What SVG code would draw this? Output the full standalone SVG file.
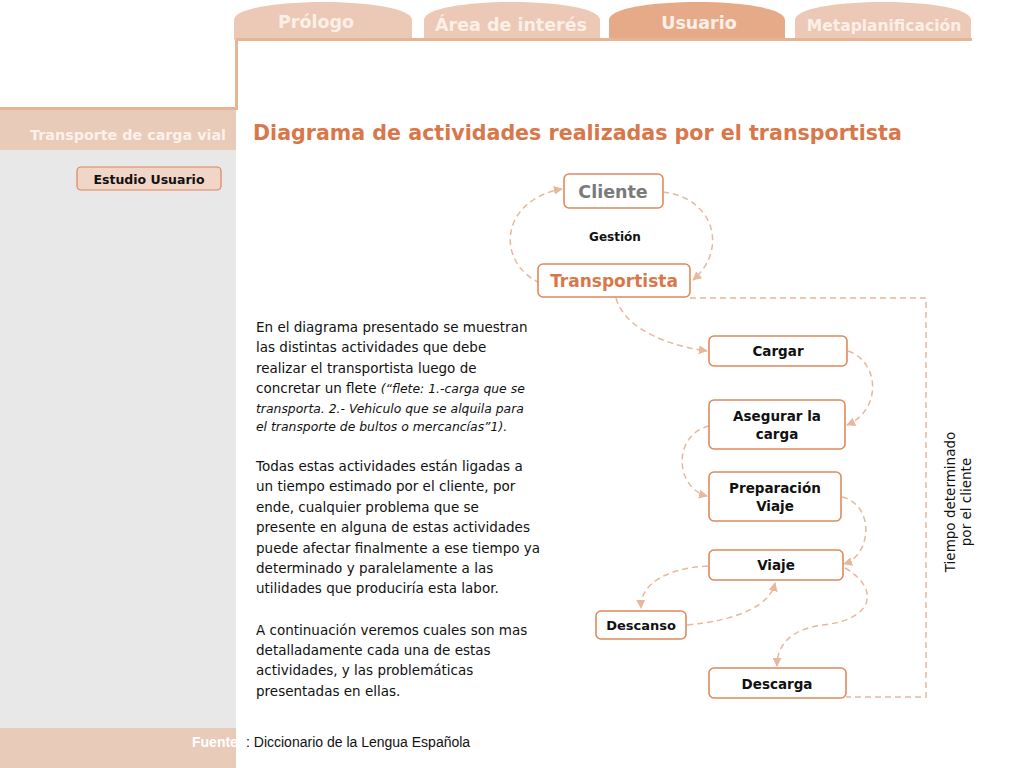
<svg xmlns="http://www.w3.org/2000/svg" width="1024" height="768" viewBox="0 0 1024 768">
<style>
.tab{fill:#ecc9b6}
.tabA{fill:#e6aa89}
.tabT{font-family:"DejaVu Sans",sans-serif;font-weight:bold;font-size:17.5px;fill:#fbefe8;text-anchor:middle}
.node{fill:#fff;stroke:#e0895b;stroke-width:1.6}
.nt{font-family:"DejaVu Sans",sans-serif;font-weight:bold;font-size:13.5px;fill:#111;text-anchor:middle}
.con{fill:none;stroke:#e9b79c;stroke-width:1.5;stroke-dasharray:6,4}
.body{font-family:"DejaVu Sans",sans-serif;font-size:13.5px;fill:#111}
.it{font-style:italic;font-size:12.4px}
</style>
<defs>
<marker id="ar" viewBox="0 0 10 10" refX="9" refY="5" markerWidth="9" markerHeight="9" markerUnits="userSpaceOnUse" orient="auto">
<path d="M0,0 L10,5 L0,10 Z" fill="#e9b79c"/>
</marker>
</defs>
<rect width="1024" height="768" fill="#fff"/>
<rect x="0" y="150" width="236" height="578" fill="#e8e8e8"/>
<rect x="0" y="110" width="236" height="40" fill="#e9cbb9"/>
<rect x="0" y="728" width="236" height="40" fill="#e9cbb9"/>
<path d="M0,108.5 H236.5 V39" fill="none" stroke="#e8b496" stroke-width="3"/>
<g id="tabs">
<path class="tab" d="M234,40 V20 C234,8 280,2 323,2 C366,2 412,8 412,20 V40 Z"/>
<path class="tab" d="M424,40 V20 C424,8 468,2 512,2 C556,2 600,8 600,20 V40 Z"/>
<path class="tabA" d="M609,40 V20 C609,8 653,2 697,2 C741,2 785,8 785,20 V40 Z"/>
<path class="tab" d="M795,40 V20 C795,8 839,2 883,2 C927,2 971,8 971,20 V40 Z"/>
<text class="tabT" x="316" y="28">Prólogo</text>
<text class="tabT" x="511" y="31">Área de interés</text>
<text class="tabT" x="699" y="29">Usuario</text>
<text class="tabT" x="884" y="31" style="font-size:15.5px">Metaplanificación</text>
</g>
<line x1="236" y1="39.5" x2="972" y2="39.5" stroke="#e8b496" stroke-width="3"/>
<text x="226" y="140" text-anchor="end" font-family="DejaVu Sans,sans-serif" font-weight="bold" font-size="14.3" fill="#fbf1ea">Transporte de carga vial</text>
<g id="btn">
<rect x="77" y="167" width="144" height="23" rx="4" fill="#f1d6c7" stroke="#d9865c" stroke-width="1.2"/>
<text x="149" y="184" class="nt" style="font-size:12.5px">Estudio Usuario</text>
</g>
<text x="253" y="140" font-family="DejaVu Sans,sans-serif" font-weight="bold" font-size="20.6" fill="#d8784a">Diagrama de actividades realizadas por el transportista</text>
<g id="para" class="body">
<text x="256" y="332">En el diagrama presentado se muestran</text>
<text x="256" y="352">las distintas actividades que debe</text>
<text x="256" y="373">realizar el transportista luego de</text>
<text x="256" y="393">concretar un flete <tspan class="it">(“flete: 1.-carga que se</tspan></text>
<text x="256" y="413" class="it">transporta. 2.- Vehiculo que se alquila para</text>
<text x="256" y="431" class="it">el transporte de bultos o mercancías”1).</text>
<text x="256" y="471">Todas estas actividades están ligadas a</text>
<text x="256" y="491">un tiempo estimado por el cliente, por</text>
<text x="256" y="512">ende, cualquier problema que se</text>
<text x="256" y="532">presente en alguna de estas actividades</text>
<text x="256" y="553">puede afectar finalmente a ese tiempo ya</text>
<text x="256" y="573">determinado y paralelamente a las</text>
<text x="256" y="593">utilidades que produciría esta labor.</text>
<text x="256" y="635">A continuación veremos cuales son mas</text>
<text x="256" y="655">detalladamente cada una de estas</text>
<text x="256" y="675">actividades, y las problemáticas</text>
<text x="256" y="696">presentadas en ellas.</text>
</g>
<g id="connectors">
<path class="con" d="M663,192 C715,198 728,250 693,280" marker-end="url(#ar)"/>
<path class="con" d="M540,283 C495,262 500,200 562,189" marker-end="url(#ar)"/>
<path class="con" d="M690,298 H926 V697 H846"/>
<path class="con" d="M616,298 C625,330 670,346 707,351" marker-end="url(#ar)"/>
<path class="con" d="M848,351 C880,362 882,410 847,425" marker-end="url(#ar)"/>
<path class="con" d="M709,426 C672,435 675,488 707,496" marker-end="url(#ar)"/>
<path class="con" d="M842,497 C875,505 872,555 844,564" marker-end="url(#ar)"/>
<path class="con" d="M708,566 C670,568 640,582 641,608" marker-end="url(#ar)"/>
<path class="con" d="M687,625 C740,620 770,605 775,583" marker-end="url(#ar)"/>
<path class="con" d="M845,568 C880,588 875,620 822,625 C790,630 777,645 777,666" marker-end="url(#ar)"/>
</g>
<g id="cliente"><rect class="node" x="564" y="174" width="99" height="34" rx="5"/><text x="613" y="198" class="nt" style="font-size:17.5px;fill:#7a7a7a">Cliente</text></g>
<text x="615" y="241" class="nt" style="font-size:12px">Gestión</text>
<g id="transportista"><rect class="node" x="538" y="264" width="152" height="33" rx="5"/><text x="614" y="287" class="nt" style="font-size:17px;fill:#d8784a">Transportista</text></g>
<g id="cargar"><rect class="node" x="709" y="336" width="138" height="30" rx="5"/><text x="778" y="356" class="nt">Cargar</text></g>
<g id="asegurar"><rect class="node" x="709" y="400" width="136" height="49" rx="5"/><text x="777" y="421" class="nt">Asegurar la</text><text x="777" y="439" class="nt">carga</text></g>
<g id="preparacion"><rect class="node" x="709" y="472" width="132" height="49" rx="5"/><text x="775" y="493" class="nt">Preparación</text><text x="775" y="511" class="nt">Viaje</text></g>
<g id="viaje"><rect class="node" x="709" y="550" width="134" height="30" rx="5"/><text x="776" y="570" class="nt">Viaje</text></g>
<g id="descanso"><rect class="node" x="596" y="611" width="90" height="28" rx="5"/><text x="641" y="630" class="nt" style="font-size:13px">Descanso</text></g>
<g id="descarga"><rect class="node" x="709" y="668" width="137" height="30" rx="5"/><text x="777" y="689" class="nt">Descarga</text></g>
<g font-family="DejaVu Sans,sans-serif" font-size="13.5" fill="#111" text-anchor="middle">
<text transform="translate(955,502) rotate(-90)">Tiempo determinado</text>
<text transform="translate(971,502) rotate(-90)">por el cliente</text>
</g>
<text x="192" y="747" font-family="Liberation Sans,sans-serif" font-weight="bold" font-size="14" fill="#fff">Fuente</text>
<rect x="236" y="728" width="30" height="40" fill="#fff"/>
<text x="246" y="747" font-family="Liberation Sans,sans-serif" font-size="14" fill="#111">: Diccionario de la Lengua Española</text>
</svg>
